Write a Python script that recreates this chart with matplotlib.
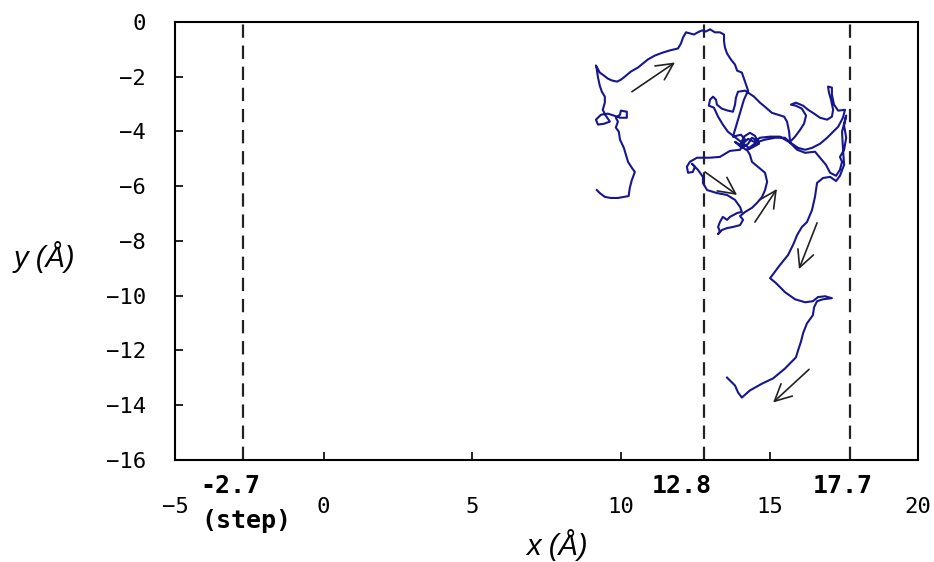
import matplotlib
matplotlib.use("Agg")
import matplotlib.pyplot as plt

# trajectory (x, y in Angstrom) in walking order
path_x = [
    9.19, 9.29, 9.46, 9.66, 9.90, 10.10, 10.26, 10.30, 10.37, 10.47, 10.37, 10.24, 10.17, 10.10,
    9.97, 9.93, 9.83, 9.90, 9.83, 9.97, 10.00, 10.20, 10.20, 9.97, 9.76, 9.56, 9.33, 9.16, 9.23,
    9.43, 9.63, 9.49, 9.39, 9.46, 9.46, 9.36, 9.29, 9.23, 9.19, 9.16,
    9.29, 9.43, 9.56, 9.70, 9.87, 10.00, 10.13, 10.34, 10.57, 10.74, 10.91, 11.14, 11.41, 11.65,
    11.92, 12.02, 12.09, 12.19, 12.32, 12.46, 12.59, 12.73, 12.86, 13.00, 13.16, 13.33, 13.47,
    13.47, 13.50, 13.57, 13.70, 13.84, 13.91, 14.07, 14.14, 14.21, 14.28,
    14.14, 14.04, 13.94, 13.84, 13.77,
    14.04, 14.18, 14.01, 13.84, 14.07, 14.28, 14.41, 14.58, 14.44, 14.21, 14.01, 14.14, 14.34,
    14.51, 14.65, 14.34,
    13.60, 13.43, 13.27, 13.13,
    12.96, 13.00, 13.10, 13.20, 13.23, 13.40, 13.60, 13.77, 13.84, 13.87, 13.94, 14.18,
    14.48, 14.68, 14.88, 15.08, 15.29, 15.49, 15.59, 15.66, 15.69,
    15.86, 16.03, 16.16, 16.23, 16.09, 15.89, 15.72, 15.89, 16.13, 16.30, 16.46, 16.70, 16.94,
    17.10, 17.14, 17.07, 17.00, 16.97, 17.10, 17.10, 17.17, 17.31, 17.54, 17.47, 17.31, 17.14,
    16.94, 16.70, 16.43, 16.20, 15.96, 15.76,
    15.35, 15.02, 14.68, 14.48, 14.28, 14.14,
    14.01, 13.67, 13.33, 12.99, 12.76,
    12.56, 12.32, 12.22, 12.26, 12.42, 12.49, 12.39, 12.59, 12.76, 12.76, 12.90, 13.23, 13.57,
    13.84, 14.01, 14.07,
    13.91, 13.67, 13.57, 13.43, 13.33, 13.27, 13.33, 13.27, 13.40, 13.57, 13.77, 14.01, 14.11,
    14.01, 14.18, 14.41, 14.58, 14.75, 14.85, 14.92, 14.85, 14.61, 14.41, 14.34, 14.24,
    14.41, 14.61, 14.85, 15.19, 15.52, 15.69, 15.93, 16.20, 16.53, 16.70, 16.90, 17.04, 17.24,
    17.37, 17.44, 17.37,
    17.51, 17.58, 17.51, 17.58, 17.44, 17.47, 17.51, 17.37, 17.24, 17.04, 16.80, 16.60,
    16.53, 16.43, 16.26, 16.09, 15.93, 15.82, 15.62, 15.35, 15.02, 15.22, 15.52, 15.86, 16.20,
    16.46, 16.63, 16.87, 17.10, 16.80, 16.60, 16.50, 16.46, 16.26, 16.13, 16.06, 15.96, 15.89,
    15.52, 15.12, 14.75, 14.34, 14.07, 13.94, 13.84, 13.67, 13.57,
]
path_y = [
    -6.14, -6.25, -6.39, -6.43, -6.43, -6.39, -6.36, -6.06, -5.77, -5.48, -5.33, -5.11, -4.85, -4.60,
    -4.30, -4.01, -3.86, -3.64, -3.50, -3.39, -3.24, -3.28, -3.50, -3.50, -3.42, -3.35, -3.39, -3.57, -3.75,
    -3.72, -3.64, -3.42, -3.21, -2.95, -2.73, -2.55, -2.33, -2.03, -1.74, -1.59,
    -1.85, -1.96, -2.07, -2.14, -2.18, -2.11, -2.00, -1.81, -1.67, -1.52, -1.37, -1.23, -1.12, -1.04,
    -0.97, -0.79, -0.57, -0.38, -0.42, -0.46, -0.38, -0.31, -0.35, -0.27, -0.38, -0.38, -0.46,
    -0.71, -0.93, -1.15, -1.37, -1.56, -1.78, -1.85, -2.07, -2.29, -2.51,
    -2.84, -3.21, -3.57, -3.94, -4.19,
    -4.12, -4.30, -4.49, -4.38, -4.60, -4.45, -4.23, -4.34, -4.56, -4.67, -4.52, -4.19, -4.05,
    -4.16, -4.45, -4.63,
    -4.01, -3.75, -3.46, -3.13,
    -3.06, -2.84, -2.73, -2.84, -3.02, -3.17, -3.24, -3.28, -3.02, -2.77, -2.55, -2.51,
    -2.73, -2.95, -3.13, -3.32, -3.39, -3.46, -3.64, -4.01, -4.38,
    -4.19, -3.94, -3.72, -3.42, -3.17, -3.06, -3.02, -2.95, -3.06, -3.21, -3.32, -3.50, -3.57,
    -3.46, -3.21, -2.84, -2.58, -2.36, -2.40, -2.66, -3.02, -3.24, -3.21, -3.50, -3.83, -4.01,
    -4.23, -4.45, -4.60, -4.67, -4.60, -4.45,
    -4.19, -4.19, -4.23, -4.38, -4.27, -4.41,
    -4.67, -4.71, -4.93, -4.96, -4.96,
    -4.96, -5.11, -5.29, -5.51, -5.48, -5.29, -5.18, -5.40, -5.66, -5.88, -6.14, -6.25, -6.32,
    -6.50, -6.76, -6.94,
    -6.98, -7.12, -7.23, -7.12, -7.31, -7.49, -7.64, -7.75, -7.60, -7.53, -7.49, -7.42, -7.23,
    -7.09, -6.94, -6.79, -6.61, -6.39, -6.14, -5.84, -5.51, -5.29, -5.11, -4.85, -4.67,
    -4.52, -4.38, -4.30, -4.23, -4.23, -4.41, -4.67, -4.78, -4.74, -4.96, -5.22, -5.51, -5.62,
    -5.40, -5.11, -4.93,
    -4.67, -4.23, -3.79, -3.42, -4.01, -4.60, -5.22, -5.62, -5.81, -5.66, -5.70, -5.88,
    -6.39, -6.87, -7.31, -7.49, -7.78, -8.08, -8.52, -8.88, -9.36, -9.54, -9.87, -10.13, -10.24,
    -10.20, -10.05, -10.02, -10.09, -10.13, -10.20, -10.42, -10.71, -11.01, -11.37, -11.67, -12.00, -12.25,
    -12.66, -13.02, -13.21, -13.46, -13.72, -13.53, -13.28, -13.10, -12.99,
]

# direction arrows: tail -> head
arrow_tail_x = [10.37, 12.83, 14.51, 16.60, 16.33]
arrow_tail_y = [-2.55, -5.48, -7.31, -7.34, -12.69]
arrow_head_x = [11.82, 13.91, 15.25, 15.99, 15.12]
arrow_head_y = [-1.48, -6.32, -6.10, -9.03, -13.90]

# dashed reference lines
vlines = [-2.7, 12.8, 17.7]
vline_labels = ["-2.7", "12.8", "17.7"]

xticks = [-5, 0, 5, 10, 15, 20]
yticks = [0, -2, -4, -6, -8, -10, -12, -14, -16]

mono = "DejaVu Sans Mono"

fig = plt.figure(figsize=(9.34, 5.62), dpi=100)
ax = fig.add_axes([0.1874, 0.1815, 0.7956, 0.7795])

ax.plot(path_x, path_y, color="#16168e", lw=1.5, zorder=3)

for x in vlines:
    ax.axvline(x, color="#222222", lw=1.6, ls=(0, (6, 3.5)), zorder=2)

for tx, ty, hx, hy in zip(arrow_tail_x, arrow_tail_y, arrow_head_x, arrow_head_y):
    ax.annotate("", xy=(hx, hy), xytext=(tx, ty),
                arrowprops=dict(arrowstyle="->", color="#222222", lw=1.2,
                                mutation_scale=30, shrinkA=0, shrinkB=0),
                zorder=4)

ax.set_xlim(-5, 20)
ax.set_ylim(-16, 0)
ax.set_xticks(xticks)
ax.set_yticks(yticks)
ax.set_xticklabels([str(t).replace("-", "\u2212") for t in xticks], family=mono, fontsize=16)
ax.set_yticklabels([str(t).replace("-", "\u2212") for t in yticks], family=mono, fontsize=16)
ax.tick_params(axis="x", direction="in", length=6, width=1.2, pad=27)
ax.tick_params(axis="y", direction="in", length=6, width=1.2, pad=21)
for s in ax.spines.values():
    s.set_linewidth(1.5)

# bold labels under the dashed lines
tr = ax.get_xaxis_transform()
label_shift = [-0.45, -0.75, -0.25]
for x, lab, dx in zip(vlines, vline_labels, label_shift):
    ax.text(x + dx, -0.06, lab, transform=tr, ha="center", va="center",
            family=mono, fontweight="bold", fontsize=18)
ax.text(vlines[0] + 0.1, -0.14, "(step)", transform=tr, ha="center", va="center",
        family=mono, fontweight="bold", fontsize=18)

fig.text(0.596, 0.030, "x (Å)", ha="center", va="center", family="Liberation Sans",
         style="italic", fontsize=21)
fig.text(0.048, 0.543, "y (Å)", ha="center", va="center", family="Liberation Sans",
         style="italic", fontsize=21)

fig.savefig("out.png", dpi=100)
